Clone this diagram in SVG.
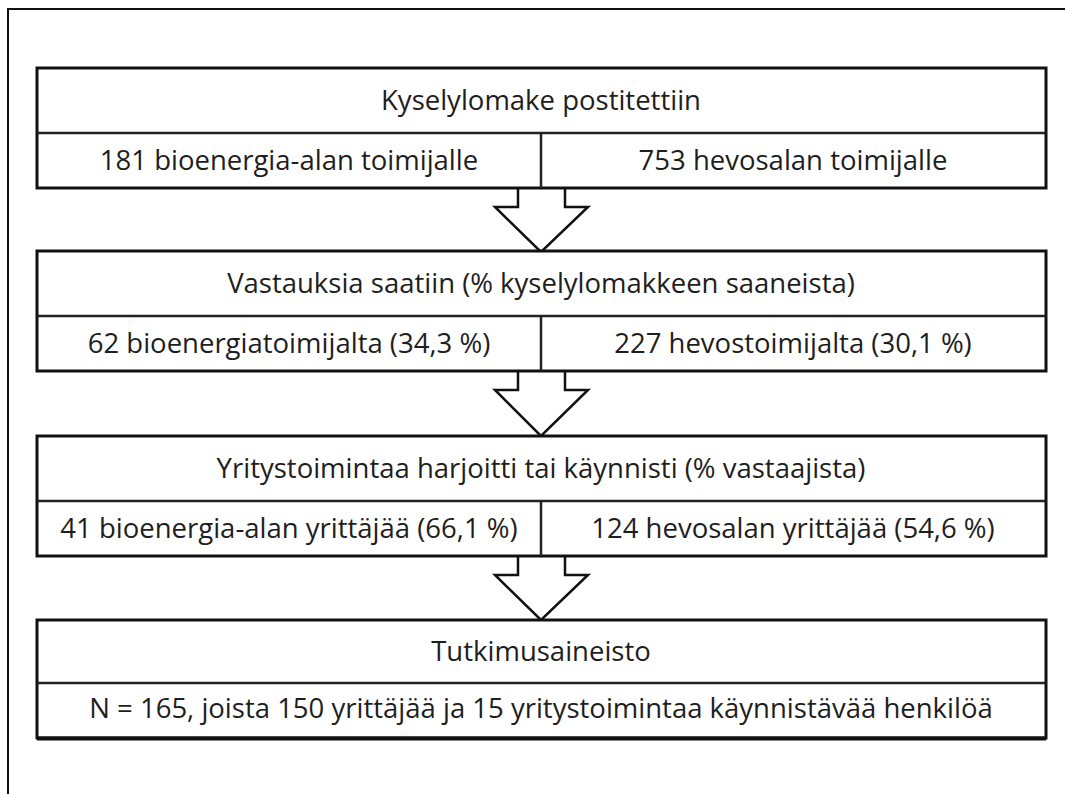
<svg xmlns="http://www.w3.org/2000/svg" width="1065" height="794" viewBox="0 0 1065 794">
<style>
.box{fill:#fff;stroke:#111;stroke-width:3}
.div{stroke:#222;stroke-width:2.5;fill:none}
.t{font-family:"Open Sans","Liberation Sans",sans-serif;font-size:27.5px;fill:#1e1e1e;text-anchor:middle}
.arr{fill:#fff;stroke:#111;stroke-width:2.5;stroke-linejoin:miter}
.frame{fill:none;stroke:#111;stroke-width:2}
</style>
<rect x="0" y="0" width="1065" height="794" fill="#fff"/>
<path class="frame" d="M8,800 V9 H1070"/>
<g id="connectors">
<path class="arr" d="M518,188 V207 H495 L541,252 L588,207 H565 V188"/>
<path class="arr" d="M518,371 V390 H495 L541,436 L588,390 H565 V371"/>
<path class="arr" d="M518,556 V575 H495 L541,620 L588,575 H565 V556"/>
</g>
<g id="node1">
<rect class="box" x="37" y="68" width="1009" height="120"/>
<path class="div" d="M37,133 H1046 M541,133 V188"/>
<text class="t" x="541" y="110">Kyselylomake postitettiin</text>
<text class="t" x="289" y="170">181 bioenergia-alan toimijalle</text>
<text class="t" x="793" y="170">753 hevosalan toimijalle</text>
</g>
<g id="node2">
<rect class="box" x="37" y="251" width="1009" height="120"/>
<path class="div" d="M37,316 H1046 M541,316 V371"/>
<text class="t" x="541" y="293">Vastauksia saatiin (% kyselylomakkeen saaneista)</text>
<text class="t" x="289" y="353">62 bioenergiatoimijalta (34,3 %)</text>
<text class="t" x="793" y="353">227 hevostoimijalta (30,1 %)</text>
</g>
<g id="node3">
<rect class="box" x="37" y="436" width="1009" height="120"/>
<path class="div" d="M37,501 H1046 M541,501 V556"/>
<text class="t" x="541" y="478">Yritystoimintaa harjoitti tai käynnisti (% vastaajista)</text>
<text class="t" x="289" y="538">41 bioenergia-alan yrittäjää (66,1 %)</text>
<text class="t" x="793" y="538">124 hevosalan yrittäjää (54,6 %)</text>
</g>
<g id="node4">
<rect class="box" x="37" y="620" width="1009" height="118"/>
<path class="div" d="M37,683 H1046"/>
<path d="M37,738.5 H1046" stroke="#111" stroke-width="4"/>
<text class="t" x="541" y="661">Tutkimusaineisto</text>
<text class="t" x="541" y="718">N = 165, joista 150 yrittäjää ja 15 yritystoimintaa käynnistävää henkilöä</text>
</g>
</svg>
